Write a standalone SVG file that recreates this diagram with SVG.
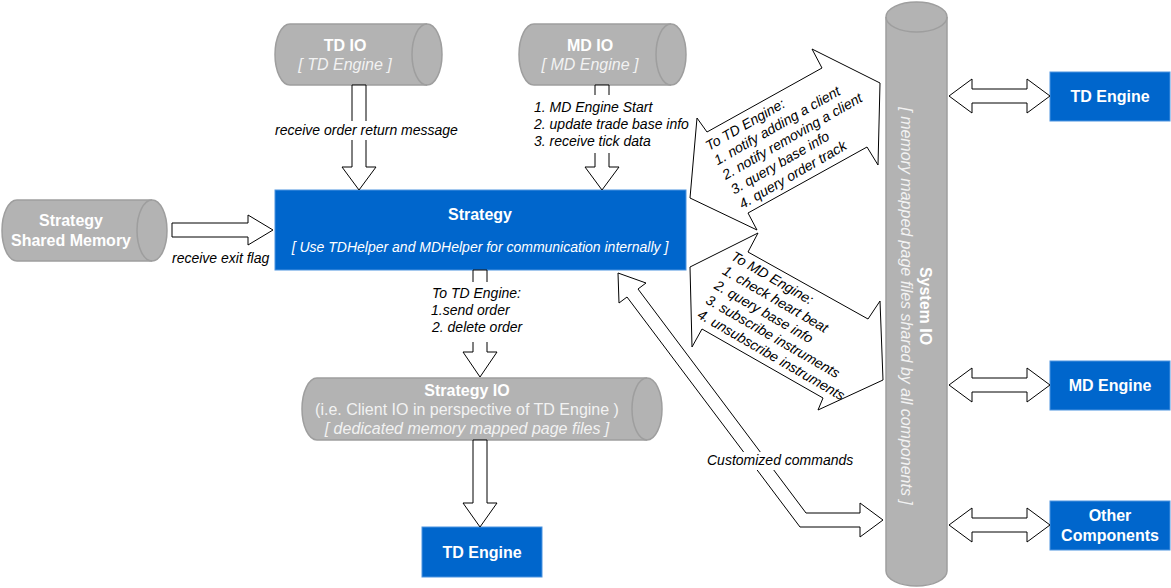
<svg xmlns="http://www.w3.org/2000/svg" width="1171" height="588" viewBox="0 0 1171 588">
<style>
text{font-family:"Liberation Sans",Arial,sans-serif}
.cyl{fill:#B3B3B3;stroke:#9E9E9E;stroke-width:1.5}
.face{fill:none;stroke:#9E9E9E;stroke-width:1.5}
.box{fill:#0066CC;stroke:#4D94E0;stroke-width:1}
.ct{fill:#FFFFFF;font-size:16px;font-weight:bold;text-anchor:middle}
.cs{fill:#F2F2F2;font-size:16px;font-style:italic;text-anchor:middle}
.cn{fill:#F2F2F2;font-size:16px;text-anchor:middle}
.bt{fill:#FFFFFF;font-size:16px;font-weight:bold;text-anchor:middle}
.arr{fill:#FFFFFF;stroke:#000000;stroke-width:1}
.lbl{fill:#000000;font-size:14px;font-style:italic}
.lbg{fill:#FFFFFF}
</style>
<rect width="1171" height="588" fill="#FFFFFF"/>

<g id="td-io">
<path class="cyl" d="M290,24 L427,24 A15,30.5 0 0 1 427,85 L290,85 A15,30.5 0 0 1 290,24 Z"/>
<path class="face" d="M427,24 A15,30.5 0 0 0 427,85"/>
<text class="ct" x="345" y="51">TD IO</text>
<text class="cs" x="345" y="70">[ TD Engine ]</text>
</g>

<g id="md-io">
<path class="cyl" d="M534,24 L671,24 A15,30.5 0 0 1 671,85 L534,85 A15,30.5 0 0 1 534,24 Z"/>
<path class="face" d="M671,24 A15,30.5 0 0 0 671,85"/>
<text class="ct" x="590" y="51">MD IO</text>
<text class="cs" x="590" y="70">[ MD Engine ]</text>
</g>

<g id="strategy-shared-memory">
<path class="cyl" d="M17,200 L152,200 A15,30.5 0 0 1 152,261 L17,261 A15,30.5 0 0 1 17,200 Z"/>
<path class="face" d="M152,200 A15,30.5 0 0 0 152,261"/>
<text class="ct" x="71" y="226">Strategy</text>
<text class="ct" x="71" y="246">Shared Memory</text>
</g>

<g id="strategy">
<rect class="box" x="275" y="190" width="411" height="80"/>
<text class="bt" x="480" y="220">Strategy</text>
<text x="480" y="252" fill="#FFFFFF" font-size="14" font-style="italic" text-anchor="middle">[ Use TDHelper and MDHelper for communication internally ]</text>
</g>

<g id="strategy-io">
<path class="cyl" d="M317,378 L647,378 A15,31 0 0 1 647,440 L317,440 A15,31 0 0 1 317,378 Z"/>
<path class="face" d="M647,378 A15,31 0 0 0 647,440"/>
<text class="ct" x="467" y="396">Strategy IO</text>
<text class="cn" x="467" y="415">(i.e. Client IO in perspective of TD Engine )</text>
<text class="cs" x="467" y="434">[ dedicated memory mapped page files ]</text>
</g>

<g id="td-engine-bottom">
<rect class="box" x="422" y="527" width="120" height="50"/>
<text class="bt" x="482" y="558">TD Engine</text>
</g>

<g id="system-io">
<path class="cyl" d="M886,17 A30.5,15 0 0 1 947,17 L947,571 A30.5,15 0 0 1 886,571 Z"/>
<path class="face" d="M886,17 A30.5,15 0 0 0 947,17"/>
<text class="ct" transform="translate(920,306) rotate(90)" x="0" y="0">System IO</text>
<text class="cs" transform="translate(900.5,306) rotate(90)" x="0" y="0">[ memory mapped page files shared by all components ]</text>
</g>

<g id="td-engine-right">
<rect class="box" x="1050" y="72" width="120" height="49"/>
<text class="bt" x="1110" y="102">TD Engine</text>
</g>

<g id="md-engine">
<rect class="box" x="1050" y="361" width="120" height="49"/>
<text class="bt" x="1110" y="391">MD Engine</text>
</g>

<g id="other-components">
<rect class="box" x="1050" y="501" width="120" height="49"/>
<text class="bt" x="1110" y="521">Other</text>
<text class="bt" x="1110" y="541">Components</text>
</g>

<g id="connectors">
<path class="arr" d="M352,85 L366,85 L366,167 L376,167 L359,190 L342,167 L352,167 Z"/>
<path class="arr" d="M595,85 L609,85 L609,167 L619,167 L602,190 L585,167 L595,167 Z"/>
<path class="arr" d="M172,223 L248,223 L248,215 L273,230 L248,245 L248,237 L172,237 Z"/>
<path class="arr" d="M473,270 L487,270 L487,352 L497,352 L480,377 L463,352 L473,352 Z"/>
<path class="arr" d="M473,440 L487,440 L487,503 L497,503 L480,527 L463,503 L473,503 Z"/>
<path class="arr" d="M949,96 L972,79 L972,89 L1027,89 L1027,79 L1050,96 L1027,113 L1027,103 L972,103 L972,113 Z"/>
<path class="arr" d="M949,385 L972,368 L972,378 L1027,378 L1027,368 L1050,385 L1027,402 L1027,392 L972,392 L972,402 Z"/>
<path class="arr" d="M949,525 L972,508 L972,518 L1027,518 L1027,508 L1050,525 L1027,542 L1027,532 L972,532 L972,542 Z"/>
<path class="arr" d="M697,118 L707,132 L822,68 L812,49 L880,83 L878,165 L867,147 L748,213 L757,230 L690,198 Z"/>
<path class="arr" d="M758,233 L748,252 L868,319 L880,301 L883,380 L818,410 L823,398 L702,329 L692,347 L690,267 Z"/>
<path class="arr" d="M618,273 L646,283 L638,289 L806,513 L860,513 L860,503 L883,520 L860,537 L860,527 L800,527 L627,297 L619,303 Z"/>

<rect class="lbg" x="273" y="121" width="186" height="19"/>
<text class="lbl" x="275" y="135">receive order return message</text>
<rect class="lbg" x="531" y="95" width="158" height="58"/>
<text class="lbl" x="534" y="112">1. MD Engine Start</text>
<text class="lbl" x="534" y="129">2. update trade base info</text>
<text class="lbl" x="534" y="146">3. receive tick data</text>
<text class="lbl" x="172" y="263">receive exit flag</text>
<rect class="lbg" x="428" y="282" width="95" height="60"/>
<text class="lbl" x="432" y="298">To TD Engine:</text>
<text class="lbl" x="431" y="315">1.send order</text>
<text class="lbl" x="432" y="332">2. delete order</text>
<rect class="lbg" x="705" y="452" width="150" height="18"/>
<text class="lbl" x="707" y="465">Customized commands</text>
<text class="lbl" font-style="normal" transform="translate(709,151) rotate(-30)"><tspan x="0" y="0">To TD Engine:</tspan><tspan x="0" y="16.8">1. notify adding a client</tspan><tspan x="0" y="33.6">2. notify removing a client</tspan><tspan x="0" y="50.4">3. query base info</tspan><tspan x="0" y="67.2">4. query order track</tspan></text>
<text class="lbl" font-style="normal" transform="translate(730,259) rotate(30)"><tspan x="0" y="0">To MD Engine:</tspan><tspan x="0" y="16.8">1. check heart beat</tspan><tspan x="0" y="33.6">2. query base info</tspan><tspan x="0" y="50.4">3. subscribe instruments</tspan><tspan x="0" y="67.2">4. unsubscribe instruments</tspan></text>
</g>
</svg>
